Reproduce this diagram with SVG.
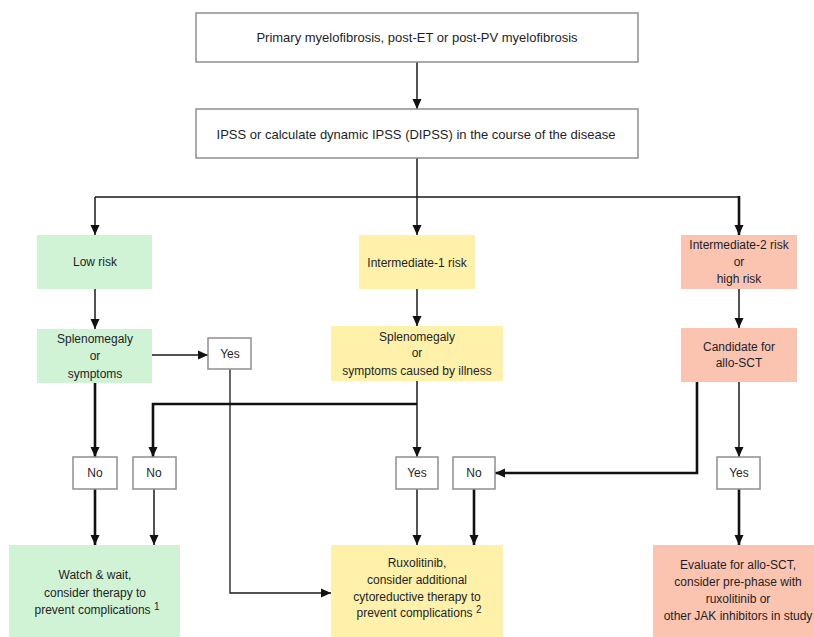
<svg xmlns="http://www.w3.org/2000/svg" width="814" height="637" viewBox="0 0 814 637">
<style>
text{font-family:"Liberation Sans",Arial,sans-serif;font-size:12px;fill:#1e1e28;text-anchor:middle}
.big{font-size:13px}
.wb{fill:#fff;stroke:#8f8f8f;stroke-width:1.5}
.g{fill:#d0f3d6}
.y{fill:#fff1a9}
.s{fill:#fbc4b1}
.c{fill:none;stroke:#1a1a1a;stroke-width:1.5}
.k{fill:none;stroke:#111;stroke-width:2.6}
.t{fill:none;stroke:#1a1a1a;stroke-width:1.3}
.sp{font-size:10px}
</style>
<defs>
<marker id="a" markerUnits="userSpaceOnUse" markerWidth="10" markerHeight="10" viewBox="0 0 10 10" refX="10" refY="5" orient="auto">
<path d="M0,0.5 L10,5 L0,9.5 Z" fill="#111"/>
</marker>
</defs>
<g id="connectors">
<path class="c" d="M417,62 V109" marker-end="url(#a)"/>
<path class="c" d="M417,158 V197 M95,197 H739"/>
<path class="c" d="M95,197 V235" marker-end="url(#a)"/>
<path class="c" d="M417,197 V235" marker-end="url(#a)"/>
<path class="k" d="M739,196 V235" marker-end="url(#a)"/>
<path class="c" d="M95,289 V329" marker-end="url(#a)"/>
<path class="c" d="M417,289 V326" marker-end="url(#a)"/>
<path class="c" d="M739,289 V328" marker-end="url(#a)"/>
<path class="c" d="M152,355 H208" marker-end="url(#a)"/>
<path class="k" d="M95,383 V457" marker-end="url(#a)"/>
<path class="c" d="M417,381 V457" marker-end="url(#a)"/>
<path class="k" d="M417,404 H153 V457" marker-end="url(#a)"/>
<path class="t" d="M230,369 V593 H331" marker-end="url(#a)"/>
<path class="k" d="M697,382 V473 H495" marker-end="url(#a)"/>
<path class="c" d="M739,382 V457" marker-end="url(#a)"/>
<path class="k" d="M95,489 V545" marker-end="url(#a)"/>
<path class="c" d="M154,489 V545" marker-end="url(#a)"/>
<path class="c" d="M417,489 V545" marker-end="url(#a)"/>
<path class="k" d="M474,489 V545" marker-end="url(#a)"/>
<path class="k" d="M739,489 V545" marker-end="url(#a)"/>
</g>
<g id="n1"><rect class="wb" x="196" y="13" width="442" height="49"/><text class="big" x="417" y="42">Primary myelofibrosis, post-ET or post-PV myelofibrosis</text></g>
<g id="n2"><rect class="wb" x="196" y="109" width="442" height="49"/><text class="big" x="416" y="139">IPSS or calculate dynamic IPSS (DIPSS) in the course of the disease</text></g>
<g id="low"><rect class="g" x="37" y="235" width="115" height="54"/><text x="95" y="266">Low risk</text></g>
<g id="int1"><rect class="y" x="359" y="235" width="116" height="54"/><text x="417" y="267">Intermediate-1 risk</text></g>
<g id="int2"><rect class="s" x="681" y="235" width="116" height="54"/><text x="739" y="249">Intermediate-2 risk</text><text x="739" y="266">or</text><text x="739" y="283">high risk</text></g>
<g id="splen1"><rect class="g" x="37" y="329" width="115" height="54"/><text x="95" y="343">Splenomegaly</text><text x="95" y="360">or</text><text x="95" y="378">symptoms</text></g>
<g id="splen2"><rect class="y" x="331" y="326" width="172" height="55"/><text x="417" y="341">Splenomegaly</text><text x="417" y="357">or</text><text x="417" y="375">symptoms caused by illness</text></g>
<g id="cand"><rect class="s" x="681" y="328" width="116" height="54"/><text x="739" y="351">Candidate for</text><text x="739" y="367">allo-SCT</text></g>
<g id="yes1"><rect class="wb" x="208" y="338" width="43" height="31"/><text x="230" y="358">Yes</text></g>
<g id="no1"><rect class="wb" x="73" y="457" width="44" height="32"/><text x="95" y="477">No</text></g>
<g id="no2"><rect class="wb" x="133" y="457" width="43" height="32"/><text x="154" y="477">No</text></g>
<g id="yes2"><rect class="wb" x="396" y="457" width="42" height="32"/><text x="417" y="477">Yes</text></g>
<g id="no3"><rect class="wb" x="453" y="457" width="42" height="32"/><text x="474" y="477">No</text></g>
<g id="yes3"><rect class="wb" x="717" y="457" width="43" height="32"/><text x="739" y="477">Yes</text></g>
<g id="watch"><rect class="g" x="9" y="545" width="171" height="92"/><text x="95" y="579">Watch &amp; wait,</text><text x="95" y="597">consider therapy to</text><text x="97" y="614">prevent complications <tspan class="sp" dy="-4">1</tspan></text></g>
<g id="rux"><rect class="y" x="331" y="545" width="172" height="92"/><text x="417" y="567">Ruxolitinib,</text><text x="417" y="584">consider additional</text><text x="417" y="601">cytoreductive therapy to</text><text x="419" y="617">prevent complications <tspan class="sp" dy="-4">2</tspan></text></g>
<g id="eval"><rect class="s" x="653" y="545" width="161" height="92"/><text x="738" y="569">Evaluate for allo-SCT,</text><text x="738" y="586">consider pre-phase with</text><text x="738" y="603">ruxolitinib or</text><text x="738" y="620">other JAK inhibitors in study</text></g>
</svg>
